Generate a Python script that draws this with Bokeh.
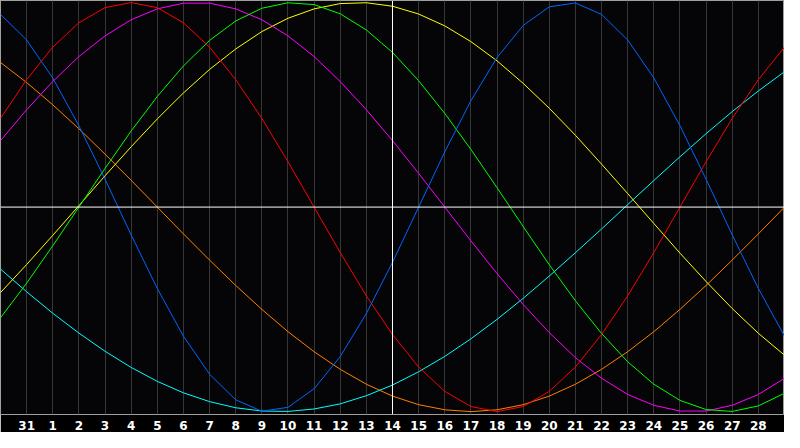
from bokeh.plotting import figure
from bokeh.models import Range1d, FixedTicker, Span
from bokeh.embed import file_html
from bokeh.resources import INLINE

# day positions on the x scale (0 = left edge, 30 = right edge)
days = list(range(31))
tick_positions = list(range(1, 30))
day_labels = ["31"] + [str(d) for d in range(1, 29)]
today_label = "14"

# cycle values in percent, read per day off the chart
blue = [94.2, 81.7, 63.1, 39.8, 13.6, -13.6, -39.8, -63.1, -81.7, -94.2, -99.8,
        -97.9, -88.8, -73.1, -52.0, -27.0, 0.0, 27.0, 52.0, 73.1, 88.8,
        97.9, 99.8, 94.2, 81.7, 63.1, 39.8, 13.6, -13.6, -39.8, -63.1]
red = [43.4, 62.3, 78.2, 90.1, 97.5, 100.0, 97.5, 90.1, 78.2, 62.3, 43.4,
       22.2, 0.0, -22.2, -43.4, -62.3, -78.2, -90.1, -97.5, -100.0, -97.5,
       -90.1, -78.2, -62.3, -43.4, -22.2, 0.0, 22.2, 43.4, 62.3, 78.2]
green = [-54.1, -37.2, -18.9, 0.0, 18.9, 37.2, 54.1, 69.0, 81.5, 91.0, 97.2,
         99.9, 99.0, 94.5, 86.6, 75.6, 61.8, 45.8, 28.2, 9.5, -9.5,
         -28.2, -45.8, -61.8, -75.6, -86.6, -94.5, -99.0, -99.9, -97.2, -91.0]
magenta = [32.5, 47.6, 61.4, 73.6, 83.7, 91.6, 96.9, 99.7, 99.7, 96.9, 91.6,
           83.7, 73.6, 61.4, 47.6, 32.5, 16.5, 0.0, -16.5, -32.5, -47.6,
           -61.4, -73.6, -83.7, -91.6, -96.9, -99.7, -99.7, -96.9, -91.6, -83.7]
yellow = [-41.8, -28.1, -13.8, 0.7, 15.3, 29.5, 43.1, 55.8, 67.3, 77.3, 85.8,
          92.3, 96.9, 99.5, 99.9, 98.2, 94.4, 88.6, 80.9, 71.5, 60.5,
          48.3, 35.1, 21.0, 6.6, -8.0, -22.5, -36.4, -49.6, -61.7, -72.4]
orange = [70.7, 60.9, 50.0, 38.3, 25.9, 13.1, 0.0, -13.1, -25.9, -38.3, -50.0,
          -60.9, -70.7, -79.3, -86.6, -92.4, -96.6, -99.1, -100.0, -99.1, -96.6,
          -92.4, -86.6, -79.3, -70.7, -60.9, -50.0, -38.3, -25.9, -13.1, 0.0]
cyan = [-30.3, -41.4, -51.9, -61.6, -70.5, -78.4, -85.2, -90.8, -95.1, -98.1, -99.7,
        -99.9, -98.7, -96.2, -92.2, -87.0, -80.5, -73.0, -64.4, -54.9, -44.6,
        -33.7, -22.3, -10.7, 1.2, 13.0, 24.6, 35.9, 46.7, 56.8, 66.2]

today = tick_positions[day_labels.index(today_label)]

p = figure(width=784, height=432, x_range=Range1d(0, 30), y_range=Range1d(-101.4, 101),
           output_backend="svg", toolbar_location=None, y_axis_location=None,
           min_border_left=0, min_border_right=0, min_border_top=0, min_border_bottom=0,
           background_fill_color="#050508", border_fill_color="#000000",
           outline_line_color="#a0a0a0", outline_line_width=1)

p.xaxis.ticker = FixedTicker(ticks=tick_positions)
p.xaxis.major_label_overrides = {t: lab for t, lab in zip(tick_positions, day_labels)}
p.xaxis.major_tick_in = 0
p.xaxis.major_tick_out = 0
p.xaxis.minor_tick_line_color = None
p.xaxis.axis_line_color = None
p.xaxis.major_label_standoff = 6
p.xaxis.major_label_text_color = "#ffffff"
p.xaxis.major_label_text_font = "DejaVu Sans"
p.xaxis.major_label_text_font_style = "bold"
p.xaxis.major_label_text_font_size = "12px"

p.xgrid.ticker = FixedTicker(ticks=tick_positions)
p.xgrid.grid_line_color = "#363636"
p.xgrid.grid_line_width = 1
p.ygrid.grid_line_color = None

p.add_layout(Span(location=0, dimension="width", line_color="#ffffff", line_width=1))
p.add_layout(Span(location=today, dimension="height", line_color="#ffffff", line_width=1))

p.line(days, orange, line_color="#ff8000", line_width=1)
p.line(days, cyan, line_color="#00ffff", line_width=1)
p.line(days, yellow, line_color="#ffff00", line_width=1)
p.line(days, magenta, line_color="#ff00ff", line_width=1)
p.line(days, green, line_color="#00ff00", line_width=1)
p.line(days, red, line_color="#ff0000", line_width=1)
p.line(days, blue, line_color="#0066ff", line_width=1)

open("out.html", "w").write(file_html(p, INLINE))
